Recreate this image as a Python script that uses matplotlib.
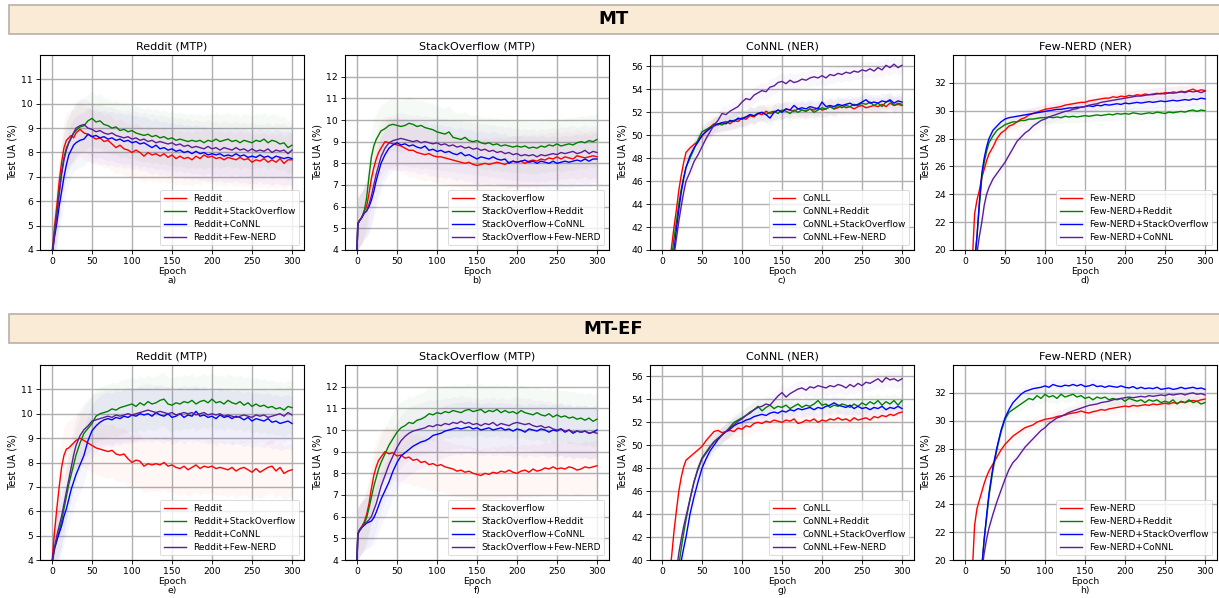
import matplotlib
matplotlib.use("Agg")
import matplotlib.pyplot as plt
from matplotlib.patches import Rectangle

# ---------------- data ----------------
EPOCHS = [0, 1, 3, 6, 9, 12, 15, 18, 21, 24, 27, 30] + list(range(35, 301, 5))

ROW_TITLES = ["MT", "MT-EF"]
PANEL_TITLES = ["Reddit (MTP)", "StackOverflow (MTP)", "CoNNL (NER)", "Few-NERD (NER)"]
PANEL_TAGS = ["a)", "b)", "c)", "d)", "e)", "f)", "g)", "h)"]

LABELS = [
    ["Reddit", "Reddit+StackOverflow", "Reddit+CoNNL", "Reddit+Few-NERD"],
    ["Stackoverflow", "StackOverflow+Reddit", "StackOverflow+CoNNL", "StackOverflow+Few-NERD"],
    ["CoNLL", "CoNNL+Reddit", "CoNNL+StackOverflow", "CoNNL+Few-NERD"],
    ["Few-NERD", "Few-NERD+Reddit", "Few-NERD+StackOverflow", "Few-NERD+CoNNL"],
]

YLIMS = [(4, 12), (4, 13), (40, 57), (20, 34)]
YTICKS = [list(range(4, 12)), list(range(4, 13)), list(range(40, 57, 2)), list(range(20, 33, 2))]
SPREADS = [[1.1, 1.1, 1.1, 1.1], [1.2, 1.2, 1.2, 1.2], [0.7, 0.7, 0.7, 0.7], [0.45, 0.45, 0.45, 0.45]]

# ---- MT row ----
a_reddit = [3.9, 4.2, 4.9, 5.8, 6.8, 7.6, 8.2, 8.5, 8.6, 8.7, 8.6, 8.8,
            8.95, 8.8, 8.75, 8.65, 8.55, 8.6, 8.45, 8.5, 8.35, 8.2,
            8.3, 8.15, 8.1, 8.0, 8.1, 8.0, 7.85, 8.0, 7.9, 7.95,
            7.85, 7.95, 7.8, 7.9, 7.75, 7.85, 7.75, 7.8, 7.7, 7.85,
            7.75, 7.9, 7.8, 7.85, 7.75, 7.8, 7.7, 7.8, 7.75, 7.7,
            7.8, 7.7, 7.75, 7.6, 7.7, 7.65, 7.75, 7.6, 7.7, 7.6,
            7.75, 7.55, 7.7, 7.7]
a_reddit_so = [3.9, 4.1, 4.7, 5.5, 6.4, 7.2, 7.8, 8.2, 8.4, 8.6, 8.8, 8.9,
               9.05, 9.1, 9.3, 9.4, 9.25, 9.3, 9.15, 9.1, 9.0, 9.05,
               8.9, 8.95, 8.85, 8.9, 8.8, 8.75, 8.7, 8.75, 8.65, 8.7,
               8.6, 8.65, 8.55, 8.6, 8.5, 8.55, 8.5, 8.45, 8.5, 8.45,
               8.5, 8.4, 8.5, 8.45, 8.55, 8.45, 8.5, 8.55, 8.45, 8.5,
               8.4, 8.5, 8.45, 8.4, 8.5, 8.45, 8.55, 8.4, 8.5, 8.45,
               8.35, 8.4, 8.2, 8.3]
a_reddit_connl = [3.9, 4.0, 4.5, 5.1, 5.8, 6.4, 7.0, 7.5, 7.9, 8.1, 8.3, 8.4,
                  8.5, 8.55, 8.75, 8.65, 8.7, 8.6, 8.65, 8.55, 8.6, 8.5,
                  8.55, 8.45, 8.5, 8.4, 8.45, 8.35, 8.4, 8.3, 8.2, 8.3,
                  8.15, 8.2, 8.1, 8.15, 8.05, 8.1, 8.0, 8.05, 7.95, 8.05,
                  7.95, 8.0, 7.9, 7.95, 7.9, 7.95, 7.85, 7.9, 7.85, 7.95,
                  7.85, 7.9, 7.8, 7.85, 7.8, 7.9, 7.8, 7.85, 7.75, 7.85,
                  7.8, 7.75, 7.8, 7.75]
a_reddit_fewnerd = [3.9, 4.0, 4.6, 5.4, 6.3, 7.1, 7.7, 8.1, 8.4, 8.6, 8.8, 9.0,
                    9.1, 9.15, 9.0, 8.95, 8.85, 8.9, 8.8, 8.75, 8.8, 8.7,
                    8.65, 8.6, 8.65, 8.55, 8.6, 8.5, 8.55, 8.45, 8.5, 8.4,
                    8.45, 8.4, 8.35, 8.4, 8.3, 8.35, 8.25, 8.3, 8.2, 8.25,
                    8.2, 8.15, 8.25, 8.15, 8.2, 8.1, 8.2, 8.15, 8.1, 8.2,
                    8.1, 8.15, 8.05, 8.15, 8.05, 8.1, 8.05, 8.15, 8.0, 8.1,
                    8.05, 8.1, 7.95, 8.1]

b_so = [3.9, 5.2, 5.35, 5.5, 5.8, 6.0, 6.6, 7.3, 7.8, 8.2, 8.5, 8.7,
        9.0, 8.95, 8.9, 8.85, 8.8, 8.7, 8.6, 8.6, 8.5, 8.45,
        8.4, 8.45, 8.35, 8.3, 8.3, 8.25, 8.2, 8.15, 8.1, 8.05,
        8.0, 8.05, 7.95, 7.9, 7.95, 8.0, 7.95, 8.0, 8.05, 8.0,
        7.95, 8.05, 8.1, 8.05, 8.1, 8.0, 8.1, 8.15, 8.1, 8.2,
        8.15, 8.25, 8.2, 8.3, 8.2, 8.3, 8.25, 8.2, 8.35, 8.3,
        8.25, 8.3, 8.35, 8.3]
b_so_reddit = [3.9, 5.2, 5.35, 5.5, 5.8, 6.4, 7.4, 8.3, 8.8, 9.1, 9.3, 9.5,
               9.6, 9.75, 9.8, 9.75, 9.7, 9.75, 9.85, 9.8, 9.7, 9.75,
               9.65, 9.6, 9.55, 9.45, 9.4, 9.35, 9.45, 9.2, 9.15, 9.1,
               9.2, 9.05, 9.0, 9.05, 8.95, 8.9, 8.95, 8.85, 8.9, 8.8,
               8.85, 8.8, 8.75, 8.8, 8.75, 8.8, 8.7, 8.75, 8.7, 8.8,
               8.75, 8.85, 8.8, 8.9, 8.8, 8.85, 8.9, 8.85, 8.95, 9.0,
               8.95, 9.05, 9.0, 9.1]
b_so_connl = [3.9, 5.2, 5.35, 5.5, 5.7, 5.8, 6.0, 6.3, 6.7, 7.2, 7.6, 8.0,
              8.4, 8.7, 8.85, 8.95, 8.85, 8.9, 8.8, 8.85, 8.75, 8.7,
              8.8, 8.6, 8.65, 8.55, 8.6, 8.5, 8.55, 8.45, 8.4, 8.5,
              8.35, 8.4, 8.3, 8.2, 8.3, 8.25, 8.2, 8.3, 8.2, 8.15,
              8.2, 8.0, 8.1, 8.05, 8.1, 8.15, 8.05, 8.1, 8.0, 8.1,
              8.05, 8.0, 8.1, 8.0, 8.05, 8.1, 8.05, 8.1, 8.15, 8.1,
              8.2, 8.1, 8.2, 8.2]
b_so_fewnerd = [3.9, 5.2, 5.35, 5.5, 5.7, 5.8, 6.1, 6.5, 7.0, 7.5, 7.9, 8.3,
                8.7, 8.95, 9.05, 9.1, 9.15, 9.1, 9.05, 9.0, 9.05, 8.95,
                9.0, 8.95, 8.9, 8.95, 8.85, 8.9, 8.8, 8.85, 8.75, 8.8,
                8.7, 8.75, 8.65, 8.7, 8.6, 8.65, 8.55, 8.6, 8.5, 8.55,
                8.45, 8.5, 8.4, 8.45, 8.35, 8.4, 8.35, 8.4, 8.3, 8.4,
                8.35, 8.4, 8.45, 8.4, 8.5, 8.45, 8.5, 8.55, 8.45, 8.5,
                8.6, 8.45, 8.55, 8.5]

c_connl = [28, 30, 33, 36, 38.5, 40.3, 42.0, 43.5, 45.2, 46.5, 47.6, 48.5,
           48.9, 49.2, 49.5, 49.9, 50.4, 50.7, 51.0, 50.9, 51.1, 51.2,
           51.0, 51.3, 51.2, 51.5, 51.4, 51.7, 51.6, 51.9, 51.8, 52.1,
           51.9, 52.0, 52.2, 52.1, 52.3, 52.2, 52.1, 52.3, 52.2, 52.1,
           52.3, 52.2, 52.4, 52.2, 52.3, 52.5, 52.3, 52.4, 52.6, 52.4,
           52.5, 52.3, 52.5, 52.6, 52.4, 52.5, 52.6, 52.5, 52.7, 52.5,
           52.8, 52.6, 52.7, 52.6]
c_connl_reddit = [27, 29, 32, 35, 37.5, 39.3, 41.0, 42.5, 44.0, 45.3, 46.3, 47.2,
                  48.0, 48.8, 49.6, 50.3, 50.5, 50.7, 50.9, 51.0, 50.9, 51.1,
                  51.2, 51.3, 51.4, 51.5, 51.6, 51.8, 51.7, 51.9, 52.0, 51.8,
                  52.0, 52.1, 51.9, 52.2, 52.1, 51.9, 52.2, 52.0, 52.2, 52.1,
                  52.3, 52.0, 52.2, 52.4, 52.3, 52.5, 52.3, 52.6, 52.4, 52.6,
                  52.5, 52.7, 52.6, 52.8, 52.7, 52.9, 52.6, 52.8, 52.5, 52.9,
                  53.0, 52.6, 52.8, 52.7]
c_connl_so = [26, 28, 31, 34, 36.5, 38.5, 40.0, 41.8, 43.5, 45.0, 46.2, 47.2,
              48.2, 48.9, 49.4, 50.0, 50.3, 50.6, 50.8, 51.0, 51.1, 51.0,
              51.3, 51.2, 51.5, 51.4, 51.6, 51.8, 51.7, 51.9, 52.0, 51.8,
              51.5, 52.0, 52.2, 52.0, 52.3, 52.2, 52.6, 52.3, 52.4, 52.3,
              52.5, 52.4, 52.3, 52.9, 52.5, 52.6, 52.5, 52.7, 52.6, 52.7,
              52.8, 52.6, 52.7, 52.9, 53.1, 52.8, 52.9, 52.8, 53.0, 52.9,
              53.1, 52.8, 53.0, 52.9]
c_connl_fewnerd = [25, 27, 30, 33, 35.5, 37.5, 39.5, 41.0, 42.5, 43.8, 45.0, 46.0,
                   46.8, 47.7, 48.3, 49.0, 49.7, 50.3, 50.9, 51.3, 51.9, 51.8,
                   52.1, 52.3, 52.5, 52.9, 53.2, 53.1, 53.5, 53.7, 53.9, 53.8,
                   54.2, 54.3, 54.6, 54.7, 54.5, 54.8, 54.6, 54.7, 54.9, 54.8,
                   55.0, 55.1, 55.0, 55.2, 55.0, 55.3, 55.2, 55.4, 55.3, 55.5,
                   55.4, 55.6, 55.5, 55.7, 55.6, 55.8, 55.6, 55.9, 55.7, 56.1,
                   55.9, 56.2, 55.9, 56.1]

d_fewnerd = [10, 11, 13, 16, 19, 22.6, 23.6, 24.3, 25.2, 25.8, 26.4, 26.9,
             27.4, 28.0, 28.4, 28.6, 28.9, 29.0, 29.2, 29.4, 29.5, 29.7,
             29.8, 29.9, 30.0, 30.1, 30.15, 30.2, 30.25, 30.3, 30.4, 30.45,
             30.5, 30.55, 30.6, 30.6, 30.7, 30.75, 30.8, 30.85, 30.9, 30.9,
             31.0, 30.95, 31.05, 31.0, 31.1, 31.05, 31.15, 31.1, 31.2, 31.15,
             31.2, 31.25, 31.2, 31.3, 31.25, 31.35, 31.3, 31.4, 31.35, 31.45,
             31.55, 31.4, 31.5, 31.45]
d_fewnerd_reddit = [8, 9, 11, 14, 17, 19.3, 21.0, 23.2, 25.2, 26.3, 27.1, 27.7,
                    28.2, 28.6, 28.8, 29.0, 29.1, 29.2, 29.2, 29.3, 29.3, 29.4,
                    29.4, 29.45, 29.5, 29.5, 29.55, 29.5, 29.55, 29.5, 29.6, 29.55,
                    29.6, 29.55, 29.6, 29.65, 29.6, 29.65, 29.7, 29.65, 29.7, 29.75,
                    29.7, 29.8, 29.75, 29.8, 29.75, 29.85, 29.8, 29.75, 29.8, 29.85,
                    29.8, 29.9, 29.85, 29.8, 29.9, 29.85, 29.9, 29.95, 29.9, 30.0,
                    30.05, 29.95, 30.05, 30.0]
d_fewnerd_so = [8, 9, 11, 14, 17, 19.0, 21.0, 23.5, 25.5, 26.6, 27.4, 28.0,
                28.6, 28.9, 29.2, 29.4, 29.5, 29.55, 29.6, 29.65, 29.7, 29.75,
                29.8, 29.85, 29.9, 29.95, 30.0, 30.05, 30.1, 30.1, 30.15, 30.2,
                30.2, 30.25, 30.25, 30.3, 30.35, 30.3, 30.4, 30.35, 30.45, 30.4,
                30.45, 30.5, 30.45, 30.55, 30.5, 30.55, 30.6, 30.55, 30.6, 30.65,
                30.6, 30.65, 30.7, 30.65, 30.7, 30.75, 30.7, 30.75, 30.8, 30.75,
                30.85, 30.8, 30.9, 30.85]
d_fewnerd_connl = [8, 9, 11, 13.5, 15.5, 17.5, 19.8, 21.0, 22.0, 23.2, 24.0, 24.5,
                   25.1, 25.5, 25.9, 26.3, 26.8, 27.3, 27.8, 28.1, 28.4, 28.6,
                   28.9, 29.1, 29.3, 29.4, 29.55, 29.65, 29.75, 29.85, 29.95, 30.0,
                   30.1, 30.15, 30.25, 30.3, 30.4, 30.45, 30.5, 30.6, 30.65, 30.7,
                   30.75, 30.8, 30.85, 30.9, 30.95, 31.0, 31.05, 31.05, 31.1, 31.15,
                   31.15, 31.2, 31.25, 31.2, 31.3, 31.25, 31.3, 31.35, 31.3, 31.4,
                   31.35, 31.4, 31.3, 31.4]

# ---- MT-EF row ----
e_reddit = [3.9, 4.3, 5.1, 6.1, 7.0, 7.8, 8.3, 8.55, 8.6, 8.7, 8.8, 8.9,
            9.0, 8.9, 8.8, 8.7, 8.6, 8.55, 8.5, 8.45, 8.5, 8.35,
            8.3, 8.35, 8.15, 8.0, 8.1, 8.05, 7.85, 7.95, 7.9, 7.95,
            7.9, 8.0, 7.85, 7.9, 7.8, 7.75, 7.85, 7.7, 7.8, 7.9,
            7.75, 7.85, 7.8, 7.85, 7.75, 7.8, 7.75, 7.7, 7.8, 7.65,
            7.75, 7.8, 7.7, 7.6, 7.75, 7.6, 7.7, 7.8, 7.85, 7.65,
            7.8, 7.55, 7.65, 7.7]
e_reddit_so = [3.9, 4.0, 4.4, 4.8, 5.2, 5.6, 6.1, 6.6, 7.1, 7.5, 7.9, 8.3,
               8.8, 9.2, 9.4, 9.6, 9.9, 10.0, 10.05, 10.1, 10.2, 10.15,
               10.25, 10.3, 10.35, 10.4, 10.3, 10.45, 10.35, 10.5, 10.4, 10.45,
               10.55, 10.6, 10.4, 10.35, 10.45, 10.4, 10.5, 10.45, 10.55, 10.4,
               10.5, 10.55, 10.45, 10.6, 10.45, 10.5, 10.4, 10.55, 10.45, 10.4,
               10.5, 10.35, 10.45, 10.3, 10.4, 10.3, 10.35, 10.25, 10.3, 10.2,
               10.25, 10.15, 10.3, 10.25]
e_reddit_connl = [3.9, 4.1, 4.5, 4.8, 5.1, 5.4, 5.8, 6.1, 6.5, 6.9, 7.2, 7.5,
                  7.9, 8.3, 8.9, 9.3, 9.5, 9.65, 9.75, 9.8, 9.75, 9.85,
                  9.8, 9.9, 9.85, 9.95, 9.9, 10.0, 9.95, 10.0, 9.9, 10.05,
                  9.95, 9.9, 10.0, 9.85, 9.9, 10.0, 9.85, 9.95, 9.9, 10.1,
                  9.9, 9.95, 9.85, 9.9, 9.8, 9.95, 9.85, 9.9, 9.8, 9.9,
                  9.85, 9.75, 9.85, 9.7, 9.8, 9.75, 9.7, 9.8, 9.65, 9.7,
                  9.6, 9.65, 9.7, 9.6]
e_reddit_fewnerd = [3.9, 4.1, 4.5, 5.0, 5.4, 5.8, 6.3, 6.8, 7.3, 7.8, 8.3, 8.7,
                    9.1, 9.35, 9.5, 9.7, 9.75, 9.8, 9.85, 9.9, 9.85, 9.95,
                    9.9, 9.95, 10.0, 9.95, 10.0, 10.05, 10.1, 10.15, 10.1, 10.05,
                    10.1, 10.05, 10.0, 10.05, 9.95, 10.0, 10.05, 10.0, 10.05, 9.95,
                    10.0, 10.05, 9.95, 10.0, 9.95, 10.0, 9.9, 9.95, 9.9, 9.85,
                    9.9, 9.95, 9.9, 9.85, 9.95, 9.9, 9.95, 9.85, 9.9, 9.95,
                    10.0, 9.9, 10.05, 9.95]

f_so = [3.9, 5.2, 5.4, 5.55, 5.75, 6.1, 6.6, 7.3, 7.9, 8.3, 8.6, 8.75,
        9.0, 8.9, 8.95, 8.8, 8.85, 8.7, 8.75, 8.6, 8.65, 8.5,
        8.55, 8.4, 8.45, 8.35, 8.4, 8.3, 8.25, 8.2, 8.1, 8.15,
        8.05, 8.1, 8.0, 7.95, 7.9, 8.0, 7.95, 8.05, 8.0, 8.1,
        8.05, 8.15, 8.05, 8.0, 8.1, 8.15, 8.05, 8.2, 8.1, 8.15,
        8.25, 8.2, 8.3, 8.2, 8.25, 8.2, 8.3, 8.25, 8.15, 8.2,
        8.3, 8.25, 8.3, 8.35]
f_so_reddit = [3.9, 5.2, 5.35, 5.5, 5.7, 5.95, 6.4, 6.9, 7.4, 7.8, 8.2, 8.5,
               8.9, 9.3, 9.6, 9.9, 10.1, 10.2, 10.35, 10.3, 10.45, 10.5,
               10.6, 10.75, 10.7, 10.8, 10.75, 10.85, 10.8, 10.9, 10.85, 10.8,
               10.9, 10.95, 10.85, 10.9, 10.95, 10.8, 10.9, 10.85, 10.95, 10.8,
               10.9, 10.8, 10.85, 10.75, 10.9, 10.8, 10.75, 10.7, 10.8, 10.7,
               10.65, 10.75, 10.6, 10.7, 10.6, 10.65, 10.55, 10.6, 10.5, 10.55,
               10.45, 10.55, 10.4, 10.5]
f_so_connl = [3.9, 5.2, 5.35, 5.5, 5.6, 5.7, 5.75, 5.8, 5.95, 6.2, 6.5, 6.8,
              7.2, 7.6, 8.1, 8.5, 8.8, 8.95, 9.1, 9.25, 9.35, 9.45,
              9.5, 9.6, 9.75, 9.8, 9.85, 9.95, 10.0, 10.05, 10.1, 10.05,
              10.1, 10.15, 10.05, 10.1, 10.0, 10.05, 10.1, 10.0, 10.05, 10.1,
              10.0, 10.05, 9.95, 10.05, 10.0, 9.9, 10.05, 10.0, 9.95, 10.05,
              10.0, 9.9, 10.0, 9.95, 10.05, 9.9, 10.0, 9.85, 9.95, 9.9,
              9.95, 9.85, 9.9, 10.0]
f_so_fewnerd = [3.9, 5.2, 5.35, 5.5, 5.65, 5.75, 5.85, 6.0, 6.3, 6.6, 7.0, 7.4,
                7.9, 8.4, 8.8, 9.2, 9.5, 9.7, 9.85, 9.95, 10.0, 10.05,
                10.1, 10.2, 10.15, 10.25, 10.2, 10.3, 10.25, 10.35, 10.3, 10.4,
                10.3, 10.35, 10.25, 10.3, 10.2, 10.3, 10.25, 10.35, 10.2, 10.3,
                10.25, 10.2, 10.3, 10.35, 10.3, 10.25, 10.3, 10.2, 10.15, 10.2,
                10.1, 10.15, 10.05, 10.0, 10.05, 9.95, 10.0, 9.9, 9.95, 9.9,
                9.95, 9.85, 9.9, 9.85]

g_connl = [28, 30, 33, 36, 38.5, 40.3, 42.5, 44.3, 46.0, 47.2, 48.1, 48.7,
           49.0, 49.3, 49.6, 49.9, 50.4, 50.8, 51.2, 51.3, 51.1, 51.2,
           51.3, 51.2, 51.5, 51.4, 51.7, 51.6, 51.9, 52.0, 51.9, 52.1,
           52.0, 52.2, 52.1, 52.0, 52.2, 52.1, 52.3, 51.9, 52.0, 52.2,
           52.1, 52.3, 52.0, 52.2, 52.1, 52.3, 52.2, 52.4, 52.2, 52.3,
           52.1, 52.4, 52.2, 52.3, 52.4, 52.2, 52.5, 52.4, 52.6, 52.5,
           52.7, 52.6, 52.8, 52.9]
g_connl_reddit = [22, 24, 27, 30, 32.5, 34.5, 36.3, 38.0, 39.5, 41.0, 42.3, 43.5,
                  45.3, 46.8, 48.0, 48.9, 49.4, 49.9, 50.3, 50.6, 50.9, 51.2,
                  51.6, 52.0, 52.2, 52.4, 52.6, 52.9, 53.1, 53.4, 53.0, 53.3,
                  53.5, 53.2, 53.4, 53.3, 53.5, 53.2, 53.4, 53.6, 53.3, 53.5,
                  53.4, 53.6, 53.9, 53.5, 53.6, 53.3, 53.5, 53.4, 53.6, 53.5,
                  53.3, 53.6, 53.4, 53.7, 53.5, 53.8, 53.6, 53.9, 53.5, 53.8,
                  53.6, 53.9, 53.5, 53.9]
g_connl_so = [21, 23, 26, 29, 31.5, 33.5, 35.3, 37.0, 38.5, 39.9, 41.0, 42.0,
              44.0, 45.5, 46.8, 48.0, 48.8, 49.5, 50.0, 50.5, 50.9, 51.2,
              51.4, 51.7, 51.9, 52.0, 52.2, 52.3, 52.5, 52.6, 52.7, 52.6,
              52.8, 52.9, 52.8, 53.0, 52.9, 53.1, 53.0, 53.2, 53.1, 53.2,
              53.3, 53.1, 53.3, 53.2, 53.4, 53.5, 53.7, 53.5, 53.4, 53.3,
              53.5, 53.2, 53.4, 53.2, 53.3, 53.1, 53.3, 53.2, 53.4, 53.1,
              53.3, 53.2, 53.4, 53.2]
g_connl_fewnerd = [23, 25, 28, 31, 33.5, 35.5, 37.3, 39.0, 40.6, 41.8, 42.9, 43.8,
                   45.3, 46.8, 47.9, 48.8, 49.3, 49.8, 50.3, 50.6, 50.9, 51.2,
                   51.5, 51.8, 52.1, 52.3, 52.6, 52.8, 53.1, 53.3, 53.4, 53.6,
                   53.5, 53.9, 54.3, 54.6, 54.2, 54.5, 54.7, 54.9, 55.0, 54.8,
                   55.1, 55.0, 55.2, 55.1, 55.0, 55.2, 55.1, 55.3, 55.2, 55.0,
                   55.3, 55.1, 55.4, 55.2, 55.5, 55.4, 55.6, 55.8, 55.5, 55.9,
                   55.7, 55.8, 55.6, 55.8]

h_fewnerd = [10, 11, 13, 16, 19, 22.5, 23.7, 24.3, 24.9, 25.5, 26.0, 26.4,
             26.9, 27.4, 27.9, 28.3, 28.6, 28.9, 29.1, 29.3, 29.5, 29.6,
             29.7, 29.9, 30.0, 30.1, 30.15, 30.2, 30.3, 30.35, 30.4, 30.5,
             30.55, 30.6, 30.7, 30.6, 30.55, 30.65, 30.7, 30.8, 30.75, 30.85,
             30.9, 30.95, 31.0, 31.05, 31.0, 31.1, 31.05, 31.1, 31.15, 31.1,
             31.2, 31.15, 31.2, 31.25, 31.2, 31.3, 31.25, 31.35, 31.3, 31.4,
             31.45, 31.4, 31.5, 31.55]
h_fewnerd_reddit = [4, 5, 7, 9, 11, 13, 15, 17.5, 19.5, 21.5, 23.0, 24.6,
                    26.5, 28.0, 29.2, 30.1, 30.6, 30.8, 31.0, 31.2, 31.4, 31.6,
                    31.5, 31.8, 31.6, 31.9, 31.7, 31.8, 31.6, 31.9, 31.7, 31.8,
                    31.9, 31.7, 31.8, 31.6, 31.7, 31.5, 31.7, 31.6, 31.7, 31.5,
                    31.6, 31.5, 31.6, 31.4, 31.6, 31.5, 31.4, 31.5, 31.3, 31.5,
                    31.4, 31.5, 31.3, 31.4, 31.3, 31.5, 31.2, 31.4, 31.3, 31.5,
                    31.3, 31.4, 31.2, 31.3]
h_fewnerd_so = [4, 5, 7, 9, 11, 13, 15, 17.5, 19.5, 21.5, 23.2, 24.8,
                26.7, 28.1, 29.3, 30.2, 30.8, 31.3, 31.6, 31.9, 32.1, 32.2,
                32.3, 32.35, 32.4, 32.5, 32.4, 32.6, 32.5, 32.45, 32.55, 32.5,
                32.6, 32.5, 32.6, 32.45, 32.5, 32.6, 32.45, 32.5, 32.4, 32.5,
                32.45, 32.4, 32.5, 32.4, 32.35, 32.45, 32.3, 32.4, 32.3, 32.35,
                32.3, 32.4, 32.25, 32.3, 32.35, 32.25, 32.3, 32.4, 32.3, 32.35,
                32.4, 32.3, 32.35, 32.25]
h_fewnerd_connl = [6, 7, 9, 11, 13, 14.8, 16.5, 18.0, 19.3, 20.5, 21.5, 22.3,
                   23.3, 24.2, 25.0, 25.8, 26.5, 27.0, 27.3, 27.7, 28.1, 28.4,
                   28.7, 29.0, 29.3, 29.5, 29.8, 30.0, 30.2, 30.3, 30.45, 30.6,
                   30.7, 30.8, 30.9, 31.0, 31.1, 31.15, 31.2, 31.3, 31.35, 31.4,
                   31.5, 31.55, 31.6, 31.65, 31.7, 31.65, 31.7, 31.75, 31.7, 31.8,
                   31.75, 31.8, 31.85, 31.8, 31.9, 31.85, 31.9, 31.95, 31.85, 31.95,
                   32.0, 31.9, 31.95, 31.85]

SERIES = [
    [a_reddit, a_reddit_so, a_reddit_connl, a_reddit_fewnerd],
    [b_so, b_so_reddit, b_so_connl, b_so_fewnerd],
    [c_connl, c_connl_reddit, c_connl_so, c_connl_fewnerd],
    [d_fewnerd, d_fewnerd_reddit, d_fewnerd_so, d_fewnerd_connl],
    [e_reddit, e_reddit_so, e_reddit_connl, e_reddit_fewnerd],
    [f_so, f_so_reddit, f_so_connl, f_so_fewnerd],
    [g_connl, g_connl_reddit, g_connl_so, g_connl_fewnerd],
    [h_fewnerd, h_fewnerd_reddit, h_fewnerd_so, h_fewnerd_connl],
]

COLORS = ["#ff0000", "#008000", "#0000ff", "#5b1e96"]

# ---------------- figure ----------------
W, H = 1219, 598
fig = plt.figure(figsize=(W / 100, H / 100), dpi=100)

def fx(px):
    return px / W

def fy(py):
    return 1 - py / H

# banners
for (top, bot), title in zip([(5, 34), (314, 343)], ROW_TITLES):
    fig.patches.append(Rectangle((fx(9), fy(bot)), fx(W), fy(top) - fy(bot),
                                 transform=fig.transFigure, facecolor="#faebd7",
                                 edgecolor="#b8b0a8", linewidth=1.2, zorder=0))
    fig.text(0.503, (fy(top) + fy(bot)) / 2, title, ha="center", va="center",
             fontsize=13, fontweight="bold", color="black")

col_left = [40, 345, 650, 953]
col_w = 264
row_top = [55, 365]
row_h = 195

for r in range(2):
    for c in range(4):
        k = r * 4 + c
        ax = fig.add_axes([fx(col_left[c]), fy(row_top[r] + row_h), fx(col_w), row_h / H])
        for s, (vals, col, lab) in enumerate(zip(SERIES[k], COLORS, LABELS[c])):
            sp = SPREADS[c][s]
            ax.fill_between(EPOCHS, [v - sp for v in vals], [v + sp for v in vals],
                            color=col, alpha=0.035, linewidth=0)
            ax.plot(EPOCHS, vals, color=col, linewidth=1.0, label=lab)
        ax.set_ylim(*YLIMS[c])
        ax.set_yticks(YTICKS[c])
        ax.set_xlim(-15, 315)
        ax.set_xticks(range(0, 301, 50))
        ax.grid(True, color="#b0b0b0", linewidth=1.0)
        ax.set_axisbelow(True)
        ax.tick_params(labelsize=6.7, length=3, width=0.6, pad=2)
        for sp_ in ax.spines.values():
            sp_.set_linewidth(0.8)
        ax.set_title(PANEL_TITLES[c], fontsize=8, pad=4)
        ax.set_ylabel("Test UA (%)", fontsize=7, labelpad=3)
        ax.set_xlabel("Epoch\n" + PANEL_TAGS[k], fontsize=6.7, labelpad=1, linespacing=1.0)
        leg = ax.legend(loc="lower right", fontsize=6.5, framealpha=0.8,
                        handlelength=2.5, borderaxespad=0.5, labelspacing=0.45)
        leg.get_frame().set_linewidth(0.6)

fig.savefig("out.png", dpi=100)
